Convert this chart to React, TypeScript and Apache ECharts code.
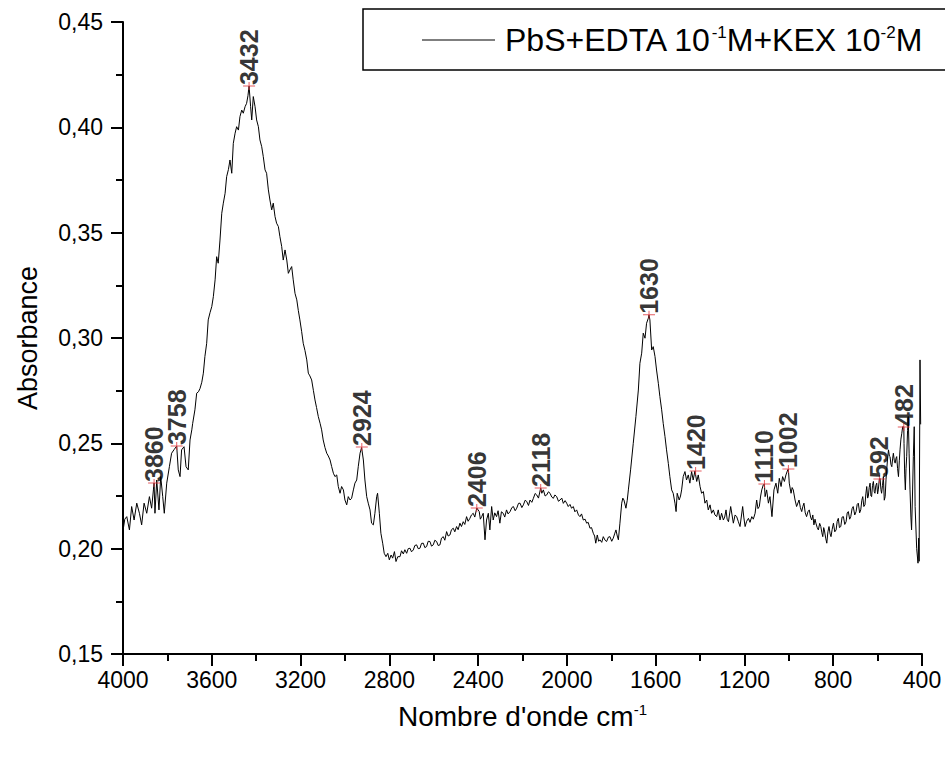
import React, { useEffect, useRef } from "react";
import * as echarts from "echarts";

const FONT = "'Liberation Sans', Arial, sans-serif";

// Spectrum (wavenumber in cm-1, absorbance)
const wavenumbers = [
  4000, 3992, 3983, 3971, 3961, 3950, 3938, 3926, 3916, 3905, 3893, 3881, 3871, 3863, 3860, 3856, 3848, 3838, 3830, 3821,
  3814, 3803, 3791, 3781, 3770, 3758, 3751, 3743, 3736, 3725, 3716, 3706, 3698, 3690, 3686, 3676, 3668, 3660, 3653, 3645,
  3638, 3631, 3623, 3616, 3608, 3600, 3593, 3585, 3578, 3571, 3563, 3555, 3548, 3540, 3533, 3525, 3518, 3510, 3503, 3495,
  3488, 3480, 3473, 3465, 3458, 3450, 3443, 3437, 3432, 3425, 3420, 3413, 3405, 3398, 3390, 3383, 3375, 3368, 3360, 3353,
  3345, 3338, 3330, 3323, 3315, 3308, 3300, 3293, 3285, 3278, 3270, 3262, 3255, 3248, 3240, 3233, 3225, 3217, 3210, 3203,
  3195, 3188, 3180, 3172, 3165, 3158, 3150, 3142, 3135, 3128, 3120, 3112, 3105, 3098, 3090, 3082, 3075, 3067, 3060, 3052,
  3045, 3037, 3030, 3022, 3015, 3007, 3000, 2992, 2985, 2977, 2970, 2962, 2955, 2947, 2940, 2932, 2925, 2917, 2910, 2902,
  2895, 2887, 2880, 2872, 2865, 2857, 2853, 2845, 2838, 2830, 2823, 2815, 2807, 2800, 2792, 2785, 2777, 2770, 2762, 2752,
  2745, 2737, 2730, 2722, 2715, 2707, 2700, 2692, 2685, 2677, 2670, 2662, 2655, 2647, 2640, 2632, 2625, 2617, 2610, 2602,
  2595, 2587, 2580, 2572, 2565, 2557, 2550, 2542, 2535, 2527, 2520, 2512, 2505, 2497, 2490, 2482, 2475, 2467, 2460, 2452,
  2445, 2437, 2430, 2422, 2415, 2406, 2395, 2390, 2384, 2377, 2369, 2362, 2354, 2347, 2339, 2332, 2325, 2317, 2310, 2302,
  2295, 2287, 2280, 2272, 2265, 2256, 2248, 2241, 2233, 2226, 2218, 2211, 2203, 2196, 2188, 2181, 2173, 2166, 2158, 2151,
  2143, 2136, 2128, 2118, 2113, 2106, 2098, 2091, 2083, 2076, 2068, 2061, 2054, 2046, 2038, 2031, 2023, 2016, 2008, 2001,
  1994, 1986, 1979, 1971, 1964, 1956, 1948, 1941, 1934, 1926, 1918, 1911, 1904, 1896, 1889, 1881, 1875, 1870, 1863, 1857,
  1851, 1843, 1836, 1828, 1821, 1813, 1806, 1798, 1791, 1785, 1779, 1773, 1768, 1761, 1753, 1748, 1743, 1734, 1728, 1723,
  1713, 1701, 1689, 1678, 1671, 1663, 1656, 1648, 1641, 1633, 1630, 1626, 1618, 1611, 1603, 1596, 1588, 1581, 1573, 1566,
  1558, 1551, 1543, 1536, 1528, 1521, 1513, 1508, 1503, 1494, 1488, 1483, 1476, 1468, 1461, 1453, 1446, 1438, 1431, 1423,
  1415, 1408, 1400, 1393, 1385, 1378, 1370, 1363, 1355, 1348, 1340, 1333, 1325, 1318, 1310, 1303, 1295, 1289, 1283, 1278,
  1272, 1262, 1250, 1242, 1235, 1228, 1220, 1208, 1203, 1197, 1190, 1182, 1175, 1167, 1160, 1152, 1145, 1139, 1133, 1127,
  1122, 1115, 1110, 1107, 1100, 1092, 1085, 1076, 1067, 1058, 1050, 1043, 1035, 1028, 1020, 1013, 1005, 1002, 998, 990,
  985, 980, 972, 965, 954, 948, 942, 937, 932, 926, 920, 914, 908, 902, 897, 892, 887, 882, 878, 872,
  867, 861, 856, 851, 847, 843, 840, 834, 829, 824, 819, 814, 810, 805, 799, 793, 787, 782, 777, 772,
  766, 760, 754, 748, 742, 737, 732, 726, 721, 715, 710, 703, 697, 692, 687, 681, 676, 671, 667, 662,
  657, 653, 649, 645, 642, 638, 634, 630, 627, 623, 619, 615, 612, 608, 604, 600, 597, 592, 589, 585,
  582, 578, 574, 570, 566, 562, 559, 555, 551, 547, 544, 540, 536, 532, 529, 525, 521, 517, 514, 510,
  506, 502, 499, 495, 491, 487, 482, 481, 478, 475, 472, 469, 465, 462, 458, 454, 450, 447, 443, 439,
  435, 431, 424, 418, 415, 413, 409, 406,
];

const absorbance = [
  0.2085, 0.2140, 0.2152, 0.2089, 0.2200, 0.2136, 0.2216, 0.2168, 0.2113, 0.2216, 0.2168, 0.2247, 0.2192, 0.2279, 0.2312, 0.2168, 0.2326, 0.2184, 0.2342, 0.2247,
  0.2168, 0.2311, 0.2389, 0.2453, 0.2470, 0.2487, 0.2374, 0.2342, 0.2469, 0.2484, 0.2389, 0.2374, 0.2516, 0.2564, 0.2595, 0.2659, 0.2738, 0.2745, 0.2760, 0.2790,
  0.2833, 0.2912, 0.2975, 0.3086, 0.3120, 0.3149, 0.3196, 0.3276, 0.3386, 0.3355, 0.3465, 0.3592, 0.3640, 0.3687, 0.3766, 0.3800, 0.3845, 0.3782, 0.3924, 0.3972,
  0.4003, 0.3987, 0.4051, 0.4082, 0.4067, 0.4098, 0.4114, 0.4150, 0.4196, 0.4098, 0.4035, 0.4146, 0.4098, 0.4035, 0.4003, 0.3940, 0.3908, 0.3861, 0.3798, 0.3782,
  0.3703, 0.3655, 0.3608, 0.3640, 0.3576, 0.3545, 0.3529, 0.3481, 0.3434, 0.3370, 0.3418, 0.3370, 0.3307, 0.3323, 0.3339, 0.3276, 0.3212, 0.3181, 0.3130, 0.3086,
  0.3030, 0.2975, 0.2940, 0.2896, 0.2833, 0.2820, 0.2801, 0.2750, 0.2706, 0.2670, 0.2627, 0.2595, 0.2564, 0.2516, 0.2480, 0.2453, 0.2440, 0.2421, 0.2390, 0.2358,
  0.2342, 0.2350, 0.2295, 0.2263, 0.2295, 0.2279, 0.2231, 0.2208, 0.2247, 0.2231, 0.2239, 0.2279, 0.2311, 0.2326, 0.2389, 0.2453, 0.2480, 0.2421, 0.2326, 0.2247,
  0.2216, 0.2184, 0.2121, 0.2113, 0.2168, 0.2247, 0.2263, 0.2168, 0.2073, 0.2026, 0.1978, 0.1962, 0.1978, 0.1947, 0.1970, 0.1955, 0.1986, 0.1939, 0.1962, 0.1962,
  0.1990, 0.1975, 0.1995, 0.1978, 0.2000, 0.2002, 0.1985, 0.1994, 0.2015, 0.2018, 0.2000, 0.2002, 0.2025, 0.2026, 0.2005, 0.2010, 0.2035, 0.2034, 0.2012, 0.2018,
  0.2040, 0.2034, 0.2015, 0.2018, 0.2050, 0.2057, 0.2040, 0.2081, 0.2060, 0.2065, 0.2090, 0.2097, 0.2080, 0.2105, 0.2090, 0.2121, 0.2105, 0.2128, 0.2115, 0.2152,
  0.2130, 0.2144, 0.2160, 0.2168, 0.2150, 0.2193, 0.2176, 0.2140, 0.2152, 0.2168, 0.2042, 0.2136, 0.2168, 0.2089, 0.2200, 0.2136, 0.2170, 0.2152, 0.2180, 0.2121,
  0.2175, 0.2168, 0.2150, 0.2184, 0.2165, 0.2176, 0.2195, 0.2200, 0.2180, 0.2192, 0.2215, 0.2216, 0.2195, 0.2208, 0.2230, 0.2224, 0.2205, 0.2231, 0.2220, 0.2239,
  0.2262, 0.2255, 0.2240, 0.2288, 0.2263, 0.2279, 0.2250, 0.2255, 0.2270, 0.2263, 0.2245, 0.2239, 0.2255, 0.2247, 0.2225, 0.2231, 0.2240, 0.2215, 0.2228, 0.2216,
  0.2200, 0.2210, 0.2192, 0.2200, 0.2175, 0.2184, 0.2160, 0.2152, 0.2165, 0.2136, 0.2140, 0.2121, 0.2125, 0.2097, 0.2100, 0.2073, 0.2060, 0.2026, 0.2065, 0.2035,
  0.2042, 0.2030, 0.2057, 0.2040, 0.2034, 0.2055, 0.2057, 0.2035, 0.2050, 0.2070, 0.2089, 0.2060, 0.2042, 0.2121, 0.2216, 0.2240, 0.2231, 0.2192, 0.2230, 0.2279,
  0.2374, 0.2500, 0.2627, 0.2753, 0.2880, 0.2928, 0.3023, 0.2999, 0.3070, 0.3094, 0.3110, 0.3086, 0.2943, 0.2959, 0.2912, 0.2848, 0.2785, 0.2722, 0.2659, 0.2595,
  0.2532, 0.2469, 0.2405, 0.2342, 0.2279, 0.2263, 0.2216, 0.2176, 0.2263, 0.2231, 0.2250, 0.2279, 0.2342, 0.2366, 0.2326, 0.2350, 0.2311, 0.2366, 0.2326, 0.2369,
  0.2319, 0.2350, 0.2295, 0.2263, 0.2271, 0.2216, 0.2231, 0.2184, 0.2208, 0.2168, 0.2184, 0.2160, 0.2152, 0.2184, 0.2136, 0.2168, 0.2136, 0.2150, 0.2184, 0.2140,
  0.2128, 0.2200, 0.2121, 0.2160, 0.2152, 0.2130, 0.2105, 0.2200, 0.2150, 0.2105, 0.2130, 0.2144, 0.2125, 0.2152, 0.2140, 0.2168, 0.2231, 0.2190, 0.2200, 0.2250,
  0.2279, 0.2303, 0.2307, 0.2247, 0.2279, 0.2216, 0.2247, 0.2152, 0.2279, 0.2311, 0.2263, 0.2334, 0.2295, 0.2342, 0.2319, 0.2350, 0.2374, 0.2378, 0.2311, 0.2263,
  0.2290, 0.2279, 0.2231, 0.2200, 0.2231, 0.2195, 0.2176, 0.2200, 0.2216, 0.2170, 0.2152, 0.2175, 0.2184, 0.2150, 0.2136, 0.2160, 0.2113, 0.2140, 0.2121, 0.2100,
  0.2089, 0.2120, 0.2105, 0.2075, 0.2057, 0.2100, 0.2089, 0.2050, 0.2026, 0.2080, 0.2105, 0.2070, 0.2057, 0.2090, 0.2121, 0.2080, 0.2089, 0.2130, 0.2144, 0.2100,
  0.2105, 0.2150, 0.2152, 0.2115, 0.2128, 0.2170, 0.2176, 0.2140, 0.2152, 0.2190, 0.2200, 0.2160, 0.2176, 0.2210, 0.2216, 0.2170, 0.2184, 0.2230, 0.2247, 0.2200,
  0.2208, 0.2260, 0.2295, 0.2240, 0.2247, 0.2290, 0.2311, 0.2250, 0.2247, 0.2300, 0.2319, 0.2270, 0.2263, 0.2300, 0.2311, 0.2260, 0.2279, 0.2331, 0.2334, 0.2280,
  0.2263, 0.2300, 0.2342, 0.2230, 0.2247, 0.2330, 0.2374, 0.2430, 0.2469, 0.2440, 0.2437, 0.2400, 0.2389, 0.2430, 0.2453, 0.2420, 0.2406, 0.2430, 0.2437, 0.2380,
  0.2342, 0.2420, 0.2469, 0.2520, 0.2548, 0.2579, 0.2578, 0.2500, 0.2350, 0.2279, 0.2380, 0.2437, 0.2560, 0.2627, 0.2450, 0.2279, 0.2150, 0.2089, 0.2250, 0.2437,
  0.2579, 0.2200, 0.2000, 0.1931, 0.2050, 0.1940, 0.2896, 0.2590,
];

// Annotated peaks
const peakWavenumbers = [3860, 3758, 3432, 2924, 2406, 2118, 1630, 1420, 1110, 1002, 592, 482];
const peakAbsorbance = [0.2312, 0.2487, 0.4196, 0.2483, 0.2193, 0.2288, 0.311, 0.2369, 0.2307, 0.2378, 0.2331, 0.2578];

const xTicks = { min: 400, max: 4000, interval: 400 };
const yTicks = { min: 0.15, max: 0.45, interval: 0.05 };

const seriesName = "PbS+EDTA 10-1M+KEX 10-2M";

export default function App() {
  const ref = useRef<HTMLDivElement>(null);

  useEffect(() => {
    if (!ref.current) return;
    const chart = echarts.init(ref.current, undefined, { renderer: "svg" });
    const lineData = wavenumbers.map((w, i) => [w, absorbance[i]]);
    const peakData = peakWavenumbers.map((w, i) => [w, peakAbsorbance[i]]);

    chart.setOption({
      animation: false,
      backgroundColor: "#fff",
      textStyle: { fontFamily: FONT },
      grid: { left: 123, right: 23, top: 22, bottom: 106, containLabel: false },
      legend: {
        show: true,
        data: [{ name: seriesName, icon: "rect", itemStyle: { color: "#000" } }],
        left: 363,
        top: 9,
        padding: [15, 80, 14, 59],
        itemWidth: 73,
        itemHeight: 1.2,
        borderColor: "#000",
        borderWidth: 1.5,
        backgroundColor: "#fff",
        selectedMode: false,
        formatter: () => "PbS+EDTA 10{sup|-1}M+KEX 10{sup|-2}M",
        textStyle: {
          fontSize: 32,
          color: "#000",
          fontFamily: FONT,
          padding: [0, 0, 0, 5],
          rich: {
            sup: { fontSize: 17, color: "#000", fontFamily: FONT, verticalAlign: "top" },
          },
        },
      },
      xAxis: {
        type: "value",
        min: xTicks.min,
        max: xTicks.max,
        interval: xTicks.interval,
        inverse: true,
        position: "bottom",
        axisLine: { show: true, onZero: false, lineStyle: { color: "#000", width: 2 } },
        axisTick: { show: true, length: 12, lineStyle: { color: "#000", width: 2 } },
        minorTick: { show: true, splitNumber: 2, length: 7, lineStyle: { color: "#000", width: 2 } },
        splitLine: { show: false },
        axisLabel: {
          color: "#000",
          fontSize: 23,
          margin: 14,
          fontFamily: FONT,
          showMinLabel: true,
          showMaxLabel: true,
          formatter: (v: number) => String(Math.round(v)),
        },
        name: "Nombre d'onde cm{sup|-1}",
        nameLocation: "middle",
        nameGap: 48,
        nameTextStyle: {
          fontSize: 28,
          color: "#000",
          fontFamily: FONT,
          rich: { sup: { fontSize: 15, color: "#000", fontFamily: FONT, verticalAlign: "top" } },
        },
      },
      yAxis: {
        type: "value",
        min: yTicks.min,
        max: yTicks.max,
        interval: yTicks.interval,
        axisLine: { show: true, onZero: false, lineStyle: { color: "#000", width: 2 } },
        axisTick: { show: true, length: 12, lineStyle: { color: "#000", width: 2 } },
        minorTick: { show: true, splitNumber: 2, length: 7, lineStyle: { color: "#000", width: 2 } },
        splitLine: { show: false },
        axisLabel: {
          color: "#000",
          fontSize: 23,
          margin: 20,
          fontFamily: FONT,
          formatter: (v: number) => v.toFixed(2).replace(".", ","),
        },
        name: "Absorbance",
        nameLocation: "middle",
        nameGap: 82,
        nameTextStyle: { fontSize: 27, color: "#000", fontFamily: FONT },
      },
      series: [
        {
          name: seriesName,
          type: "line",
          data: lineData,
          symbol: "none",
          showSymbol: false,
          lineStyle: { color: "#000", width: 1 },
          itemStyle: { color: "#000" },
          z: 2,
        },
        {
          name: "peaks",
          type: "scatter",
          data: peakData,
          symbol: "path://M0,3.5h12v1h-12zM5.5,0h1v8h-1z",
          symbolSize: [12, 8],
          itemStyle: { color: "#e0353b" },
          silent: true,
          z: 3,
          label: {
            show: true,
            position: "top",
            distance: -1,
            rotate: 90,
            align: "left",
            verticalAlign: "middle",
            offset: [-2, 0],
            color: "#000",
            fontSize: 25,
            fontWeight: "bold",
            fontFamily: FONT,
            formatter: (p: any) => String(p.value[0]),
          },
        },
      ],
    });

    return () => chart.dispose();
  }, []);

  return (
    <div
      ref={ref}
      style={{ position: "absolute", left: 0, top: 0, width: 945, height: 760, background: "#fff" }}
    />
  );
}
